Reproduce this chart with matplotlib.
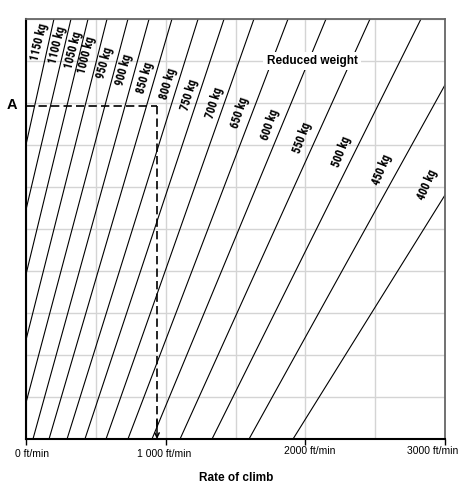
import numpy as np
import matplotlib
matplotlib.use("Agg")
import matplotlib.pyplot as plt

# reduced weight lines: rate of climb (ft/min) where each line meets the bottom (y=0) and top (y=10)
weights = [1150, 1100, 1050, 1000, 950, 900, 850, 800, 750, 700, 650, 600, 550, 500, 450, 400]
roc_bottom = [-468, -387, -286, -179, -69, 50, 165, 294, 422, 573, 730, 902, 1103, 1332, 1597, 1912]
roc_top = [200, 322, 444, 580, 730, 881, 1045, 1232, 1418, 1632, 1876, 2148, 2463, 2828, 3261, 3785]

# where the weight labels sit (height on the chart)
label_y = [9.45, 9.38, 9.26, 9.14, 8.95, 8.8, 8.6, 8.45, 8.2, 8.0, 7.76, 7.48, 7.17, 6.83, 6.40, 6.05]
label_dx = [10, 7, 7, 11, 11, 11, 10, 10, 10, 10, 12, 12, 14, 13, 16, 24]  # px left of line

# example point A
point_a_y = 7.93
point_a_roc = 938

xticks = [0, 1000, 2000, 3000]
xtick_labels = ["0 ft/min", "1 000 ft/min", "2000 ft/min", "3000 ft/min"]
xtick_shift = [(6, -15), (-2, -15), (4, -12), (-12, -12)]  # px nudges like the original

plt.rcParams["font.family"] = ["Liberation Sans", "DejaVu Sans"]
narrow = ["Liberation Sans Narrow", "Roboto Condensed", "Barlow Condensed", "DejaVu Sans"]

fig = plt.figure(figsize=(4.69, 4.94), dpi=100)
ax = fig.add_axes([26 / 469, 55 / 494, 419 / 469, 420 / 494])

ax.set_xlim(0, 3000)
ax.set_ylim(0, 10)

# grid
ax.set_xticks(xticks)
ax.set_xticklabels([])
ax.set_xticks(np.arange(0, 3001, 500), minor=True)
ax.set_yticks(np.arange(0, 11, 1))
ax.set_yticklabels([])
ax.tick_params(axis="y", length=0)
ax.tick_params(axis="x", which="major", length=4, width=1, direction="out")
ax.tick_params(axis="x", which="minor", length=0)
ax.grid(True, which="both", color="#d4d4d4", linewidth=1.0, zorder=0)
ax.set_axisbelow(True)

for xt, lab, (sx, sy) in zip(xticks, xtick_labels, xtick_shift):
    ax.annotate(lab, xy=(xt, 0), xytext=(sx * 0.72, sy * 0.72), textcoords="offset points",
                ha="center", va="center", fontsize=7.5, annotation_clip=False)

for side in ["left", "bottom"]:
    ax.spines[side].set_color("black")
    ax.spines[side].set_linewidth(1.5)
for side in ["top", "right"]:
    ax.spines[side].set_color("#666666")
    ax.spines[side].set_linewidth(1.3)

for w, b, t in zip(weights, roc_bottom, roc_top):
    ax.plot([b, t], [0, 10], color="black", linewidth=0.8, zorder=2)

# weight labels along the lines (a bit steeper than the flat lines, like the original)
for w, b, t, ly, dx in zip(weights, roc_bottom, roc_top, label_y, label_dx):
    lx = b + (t - b) * ly / 10
    p0 = ax.transData.transform((b, 0))
    p1 = ax.transData.transform((t, 10))
    ang = np.degrees(np.arctan2(p1[1] - p0[1], p1[0] - p0[0]))
    ang = (ang + 75) / 2
    ax.annotate(f"{w} kg", xy=(lx, ly), xytext=(-dx * 0.72, 0), textcoords="offset points",
                ha="center", va="center", rotation=ang, rotation_mode="anchor",
                fontsize=8.5, fontweight="bold", family=narrow,
                annotation_clip=False, zorder=4)

ax.text(2048, 9.0, "Reduced weight", ha="center", va="center", fontsize=8.5,
        fontweight="bold", zorder=5,
        bbox=dict(facecolor="white", edgecolor="none", pad=2.5))

# dashed construction line from A
ax.plot([0, point_a_roc], [point_a_y, point_a_y], color="black", linewidth=1.2,
        linestyle=(0, (5, 2.5)), zorder=3, clip_on=False)
ax.plot([point_a_roc, point_a_roc], [point_a_y, 0.25], color="black", linewidth=1.2,
        linestyle=(0, (5, 2.5)), zorder=3)
ax.annotate("", xy=(point_a_roc, 0), xytext=(point_a_roc, 0.45),
            arrowprops=dict(arrowstyle="->", color="black", lw=1.1,
                            shrinkA=0, shrinkB=0, mutation_scale=8), zorder=3)

fig.text(12 / 469, 1 - 105 / 494, "A", fontsize=10.5, fontweight="bold",
         ha="center", va="center")
fig.text(236 / 469, 1 - 478 / 494, "Rate of climb", fontsize=8.5, fontweight="bold",
         ha="center", va="center")

fig.savefig("out.png", dpi=100)
